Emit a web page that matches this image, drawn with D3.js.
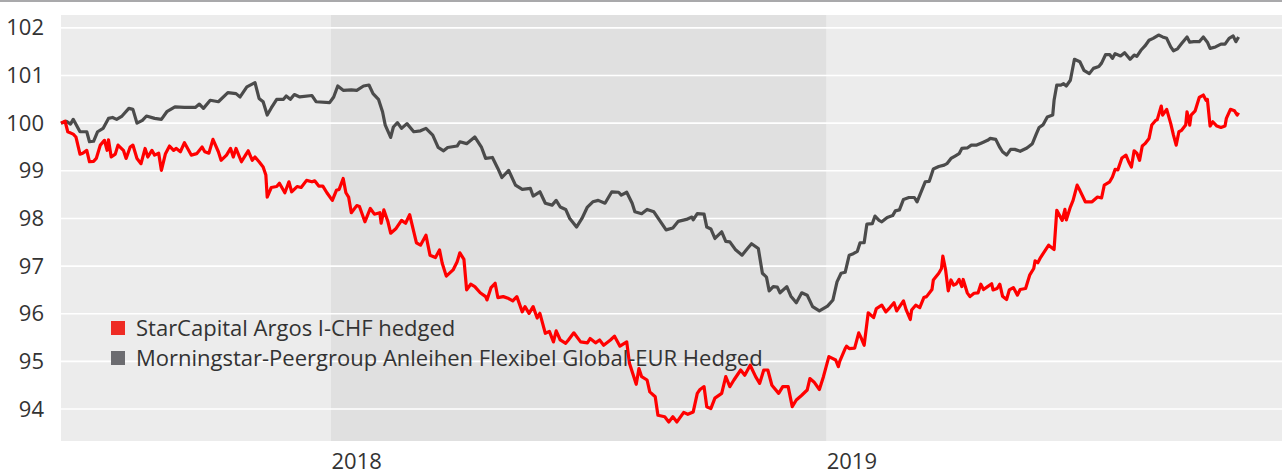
<!DOCTYPE html>
<html lang="en">
<head>
<meta charset="utf-8">
<title>StarCapital Argos vs Peergroup</title>
<script src="https://cdn.jsdelivr.net/npm/d3@7/dist/d3.min.js"></script>
<style>
  body { margin: 0; background: #fff; }
  text { font-family: "Open Sans", "Noto Sans", sans-serif; fill: #333; }
</style>
</head>
<body>
<svg width="1282" height="475"></svg>
<script>
// day offsets from 2018-01-01 and index values
var starDays = [-199,-196,-194,-190,-188,-185,-183,-180,-178,-175,-173,-170,-167,-165,-164,-162,-159,-157,-153,-151,-148,-146,-143,-140,-137,-135,-132,-130,-127,-125,-122,-119,-116,-114,-111,-108,-103,-99,-95,-93,-90,-87,-83,-81,-77,-74,-72,-70,-66,-63,-61,-58,-56,-53,-50,-48,-47,-44,-40,-38,-34,-31,-29,-25,-22,-18,-14,-12,-9,-6,-3,1,4,6,9,11,13,15,19,21,25,29,32,36,37,39,42,44,48,52,55,58,63,66,70,73,77,80,82,85,90,93,95,98,100,103,106,110,114,115,118,121,123,127,131,134,137,141,143,146,149,152,154,158,161,164,166,169,173,175,179,184,189,191,195,198,201,206,209,213,218,220,225,227,229,233,235,239,241,246,249,252,255,260,263,267,270,272,275,277,280,283,288,291,294,297,302,305,309,313,316,319,322,325,330,333,337,340,343,347,351,353,356,360,363,367,372,374,375,379,380,382,386,389,391,393,396,400,402,406,409,412,415,417,422,424,427,428,431,434,437,439,443,444,448,450,451,453,455,457,459,461,463,465,466,469,471,474,477,479,481,484,487,488,491,493,495,498,500,503,506,508,512,515,518,519,521,523,529,533,535,539,541,542,545,547,550,552,556,561,565,568,570,574,576,578,580,583,586,588,590,592,594,596,598,600,603,605,608,609,612,613,616,619,621,623,625,627,630,631,633,634,637,640,643,645,646,648,650,653,656,659,660,663,666,668,669];
var starValues = [100.00,100.04,99.82,99.77,99.71,99.35,99.37,99.43,99.19,99.20,99.26,99.54,99.64,99.43,99.65,99.29,99.35,99.54,99.43,99.26,99.50,99.54,99.26,99.15,99.47,99.29,99.43,99.33,99.37,99.01,99.36,99.52,99.43,99.47,99.40,99.59,99.33,99.36,99.50,99.40,99.37,99.66,99.40,99.22,99.33,99.47,99.29,99.47,99.19,99.33,99.42,99.22,99.29,99.19,99.08,98.91,98.45,98.65,98.67,98.74,98.54,98.77,98.56,98.67,98.65,98.80,98.77,98.79,98.68,98.68,98.54,98.38,98.59,98.61,98.84,98.54,98.45,98.12,98.27,98.25,97.93,98.21,98.09,98.12,97.90,98.18,97.93,97.69,97.79,97.96,97.90,98.08,97.49,97.44,97.65,97.23,97.18,97.34,97.06,96.79,96.92,97.09,97.28,97.14,96.50,96.62,96.57,96.44,96.36,96.29,96.55,96.64,96.34,96.36,96.32,96.27,96.36,96.04,96.15,96.01,96.15,95.91,96.01,95.59,95.63,95.41,95.64,95.45,95.38,95.45,95.60,95.41,95.39,95.48,95.39,95.45,95.34,95.45,95.53,95.32,95.41,94.96,94.52,94.85,94.68,94.61,94.36,94.26,93.87,93.84,93.73,93.84,93.73,93.93,93.89,93.94,94.33,94.41,94.47,94.05,94.01,94.23,94.33,94.68,94.47,94.61,94.82,94.71,94.92,94.68,94.54,94.82,94.82,94.50,94.33,94.47,94.47,94.05,94.19,94.29,94.40,94.64,94.57,94.41,94.68,95.10,95.03,94.89,95.00,95.27,95.32,95.27,95.28,95.60,95.48,95.34,96.02,95.92,96.11,96.18,96.04,96.13,96.23,96.06,96.27,96.08,95.88,96.08,96.18,96.13,96.34,96.36,96.51,96.71,96.85,96.95,97.21,96.93,96.48,96.71,96.60,96.63,96.72,96.57,96.72,96.44,96.36,96.43,96.44,96.62,96.51,96.57,96.63,96.50,96.53,96.62,96.37,96.30,96.50,96.55,96.39,96.51,96.53,96.81,96.95,97.11,97.07,97.18,97.44,97.35,98.17,97.96,98.19,97.97,98.24,98.38,98.70,98.59,98.35,98.35,98.45,98.43,98.70,98.77,98.87,99.03,99.02,99.27,99.33,99.19,99.08,99.42,99.37,99.22,99.52,99.57,99.68,99.96,100.06,100.07,100.36,100.17,100.29,99.99,99.75,99.54,99.82,99.85,99.96,100.24,99.96,100.17,100.26,100.54,100.59,100.48,100.50,99.94,100.03,99.94,99.91,99.94,100.10,100.29,100.26,100.17,100.22];

var peerDays = [-199,-195,-192,-190,-185,-180,-178,-175,-172,-168,-164,-161,-158,-154,-149,-146,-143,-139,-136,-130,-125,-121,-115,-108,-100,-97,-94,-89,-83,-76,-70,-67,-62,-56,-53,-50,-47,-44,-40,-35,-33,-30,-27,-23,-14,-11,-1,2,5,9,15,19,24,28,31,35,38,40,44,46,49,52,56,61,66,70,75,79,83,86,93,95,100,106,111,114,119,123,126,131,136,141,147,149,154,158,163,166,169,173,176,181,185,189,193,197,202,207,212,214,218,222,224,229,233,238,243,247,252,256,262,266,267,270,275,277,280,283,288,291,294,298,303,307,310,315,318,321,323,326,329,331,336,339,343,347,351,355,360,366,370,373,376,379,382,385,388,390,393,395,399,401,404,406,410,414,416,419,422,426,430,432,435,438,441,444,448,452,454,457,460,463,465,469,472,476,480,484,486,490,493,495,498,501,504,508,513,517,520,522,525,528,532,533,535,538,540,542,545,548,552,555,559,562,566,568,571,574,576,578,582,585,589,592,594,597,600,603,606,610,613,616,619,621,624,627,631,633,636,640,643,646,648,652,656,659,662,665,667,669];
var peerValues = [100.00,100.04,99.98,100.08,99.82,99.82,99.61,99.62,99.82,99.89,100.10,100.12,100.08,100.15,100.31,100.29,100.00,100.06,100.15,100.10,100.08,100.24,100.34,100.33,100.33,100.40,100.31,100.48,100.45,100.64,100.62,100.55,100.76,100.85,100.52,100.45,100.17,100.32,100.50,100.50,100.57,100.50,100.60,100.55,100.58,100.45,100.43,100.55,100.78,100.69,100.70,100.69,100.78,100.80,100.62,100.50,100.24,99.96,99.70,99.92,100.01,99.89,99.99,99.82,99.84,99.89,99.75,99.49,99.42,99.49,99.52,99.61,99.57,99.71,99.49,99.26,99.28,99.05,98.86,99.01,98.70,98.61,98.63,98.47,98.56,98.32,98.28,98.38,98.24,98.19,98.00,97.82,98.00,98.24,98.35,98.38,98.32,98.56,98.55,98.49,98.55,98.32,98.14,98.10,98.19,98.14,97.93,97.76,97.80,97.94,97.98,98.03,97.97,98.10,98.09,97.82,97.78,97.58,97.72,97.52,97.51,97.35,97.23,97.37,97.47,97.37,96.85,96.77,96.48,96.57,96.56,96.44,96.57,96.37,96.23,96.44,96.39,96.15,96.06,96.16,96.29,96.67,96.85,96.87,97.23,97.26,97.31,97.49,97.49,97.88,97.89,98.05,97.96,97.93,98.02,98.06,98.16,98.18,98.40,98.44,98.44,98.35,98.56,98.77,98.78,99.04,99.09,99.12,99.15,99.26,99.31,99.36,99.47,99.48,99.54,99.54,99.59,99.64,99.68,99.66,99.49,99.40,99.33,99.45,99.45,99.41,99.48,99.57,99.78,99.91,99.97,100.13,100.17,100.48,100.80,100.80,100.83,100.78,100.90,101.34,101.29,101.11,101.04,101.15,101.19,101.26,101.44,101.44,101.36,101.46,101.41,101.48,101.34,101.43,101.40,101.53,101.62,101.74,101.78,101.85,101.81,101.78,101.60,101.52,101.56,101.67,101.81,101.70,101.71,101.71,101.81,101.70,101.57,101.60,101.66,101.66,101.78,101.83,101.71,101.81];

var yTicks = [94, 95, 96, 97, 98, 99, 100, 101, 102];
var yearTicks = ["2018-01-01", "2019-01-01"];
var shadedYear = ["2018-01-01", "2019-01-01"];
var xDomain = ["2017-06-16", "2019-12-03"];
var yDomain = [93.33, 102.27];
var seriesNames = ["StarCapital Argos I-CHF hedged", "Morningstar-Peergroup Anleihen Flexibel Global-EUR Hedged"];
var lineColors = ["#ff0000", "#4b4b4b"];
var legendColors = ["#ee2b24", "#6c6c70"];

var parse = d3.timeParse("%Y-%m-%d");
var base = new Date(2018, 0, 1);

var svg = d3.select("svg"),
    plotL = 61, plotR = 1282, plotT = 15, plotB = 441;

var x = d3.scaleTime().domain(xDomain.map(parse)).range([plotL, plotR]);
var y = d3.scaleLinear().domain(yDomain).range([plotB, plotT]);

// top rule
svg.append("rect").attr("x", 0).attr("y", 0).attr("width", 1282).attr("height", 2).attr("fill", "#a9a9ab");

// plot background + shaded year
svg.append("rect").attr("x", plotL).attr("y", plotT).attr("width", plotR - plotL).attr("height", plotB - plotT).attr("fill", "#ececec");
svg.append("rect")
   .attr("x", x(parse(shadedYear[0]))).attr("y", plotT)
   .attr("width", x(parse(shadedYear[1])) - x(parse(shadedYear[0])))
   .attr("height", plotB - plotT).attr("fill", "#e0e0e0");

// gridlines
svg.append("g").selectAll("line").data(yTicks).enter().append("line")
   .attr("x1", plotL).attr("x2", plotR)
   .attr("y1", function(d) { return y(d); }).attr("y2", function(d) { return y(d); })
   .attr("stroke", "#fff").attr("stroke-width", 1.6);

// y axis labels
var yAxis = svg.append("g").attr("transform", "translate(" + 44 + ",0)")
   .call(d3.axisLeft(y).tickValues(yTicks).tickSize(0).tickPadding(0));
yAxis.select(".domain").remove();
yAxis.selectAll("text").style("font-size", "22px").attr("fill", "#333");

// x axis labels (left aligned at year start)
var xAxis = svg.append("g").attr("transform", "translate(0," + plotB + ")")
   .call(d3.axisBottom(x).tickValues(yearTicks.map(parse)).tickSize(0).tickPadding(0).tickFormat(d3.timeFormat("%Y")));
xAxis.select(".domain").remove();
xAxis.selectAll("text").attr("text-anchor", "start").attr("dy", 0).attr("y", 28)
   .style("font-size", "22px").attr("fill", "#333");

function toPoints(days, vals) {
  return days.map(function(d, i) { return { date: d3.timeDay.offset(base, d), v: vals[i] }; });
}

var line = d3.line()
   .x(function(d) { return x(d.date); })
   .y(function(d) { return y(d.v); });

var series = [toPoints(starDays, starValues), toPoints(peerDays, peerValues)];

// grey first so red sits on top
[1, 0].forEach(function(i) {
  svg.append("path").datum(series[i])
     .attr("d", line)
     .attr("fill", "none")
     .attr("stroke", lineColors[i])
     .attr("stroke-width", 3.2)
     .attr("stroke-linejoin", "round");
});

// legend
var lg = svg.append("g").attr("transform", "translate(111,321)");
seriesNames.forEach(function(name, i) {
  lg.append("rect").attr("x", 0).attr("y", i * 30).attr("width", 14).attr("height", 14).attr("fill", legendColors[i]);
  lg.append("text").attr("x", 25).attr("y", i * 30 + 7).attr("dy", "0.35em")
    .style("font-size", "22px").text(name);
});
</script>
</body>
</html>
